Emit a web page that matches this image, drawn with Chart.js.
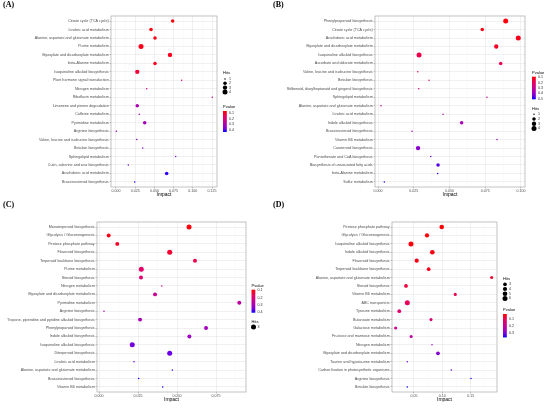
<!doctype html>
<html>
<head>
<meta charset="UTF-8">
<title>Pathway impact</title>
<script src="https://cdn.jsdelivr.net/npm/chart.js@4.4.1/dist/chart.umd.min.js"></script>
<style>
	body { margin: 0; background: #fff; }
	#wrap { position: relative; width: 550px; height: 408px; overflow: hidden; }
	canvas { position: absolute; }
	.tag { position: absolute; font: bold 8px "Liberation Serif", serif; line-height: 10px; color: #000; }
</style>
</head>
<body>
<div id="wrap">
	<canvas id="cA" width="275" height="204" style="left:0;top:0"></canvas>
	<canvas id="cB" width="275" height="204" style="left:275px;top:0"></canvas>
	<canvas id="cC" width="275" height="204" style="left:0;top:204px"></canvas>
	<canvas id="cD" width="275" height="204" style="left:275px;top:204px"></canvas>
	<div class="tag" style="left:3px;top:0">(A)</div>
	<div class="tag" style="left:273px;top:0">(B)</div>
	<div class="tag" style="left:3px;top:200px">(C)</div>
	<div class="tag" style="left:273px;top:200px">(D)</div>
</div>
<script>
	// ---- panel A ----
	const pathwaysA = ['Citrate cycle (TCA cycle)', 'Linoleic acid metabolism', 'Alanine, aspartate and glutamate metabolism',
		'Purine metabolism', 'Glyoxylate and dicarboxylate metabolism', 'beta-Alanine metabolism',
		'Isoquinoline alkaloid biosynthesis', 'Plant hormone signal transduction', 'Nitrogen metabolism',
		'Riboflavin metabolism', 'Limonene and pinene degradation', 'Caffeine metabolism', 'Pyrimidine metabolism',
		'Arginine biosynthesis', 'Valine, leucine and isoleucine biosynthesis', 'Betalain biosynthesis',
		'Sphingolipid metabolism', 'Cutin, suberine and wax biosynthesis', 'Arachidonic acid metabolism',
		'Brassinosteroid biosynthesis']
	const impactA = [0.0738, 0.0456, 0.0508, 0.0326, 0.0703, 0.0508, 0.0277, 0.0855, 0.040, 0.1254,
		0.0277, 0.0303, 0.0374, 0.0005, 0.027, 0.0348, 0.0777, 0.016, 0.066, 0.0243]
	const hitsA = [2, 2, 2, 4, 3, 2, 3, 1, 1, 1, 2, 1, 2, 1, 1, 1, 1, 1, 2, 1]
	const pvalA = [0.08, 0.085, 0.09, 0.09, 0.095, 0.1, 0.12, 0.2, 0.22, 0.25, 0.3, 0.3, 0.31, 0.33, 0.34, 0.35, 0.36, 0.38, 0.41, 0.42]
	const xTicksA = [0, 0.025, 0.05, 0.075, 0.1, 0.125]
	const hitsBreaksA = [1, 2, 3, 4]
	const pBreaksA = [0.1, 0.2, 0.3, 0.4]

	// ---- panel B ----
	const pathwaysB = ['Phenylpropanoid biosynthesis', 'Citrate cycle (TCA cycle)', 'Arachidonic acid metabolism',
		'Glyoxylate and dicarboxylate metabolism', 'Isoquinoline alkaloid biosynthesis', 'Ascorbate and aldarate metabolism',
		'Valine, leucine and isoleucine biosynthesis', 'Betalain biosynthesis',
		'Stilbenoid, diarylheptanoid and gingerol biosynthesis', 'Sphingolipid metabolism',
		'Alanine, aspartate and glutamate metabolism', 'Linoleic acid metabolism', 'Indole alkaloid biosynthesis',
		'Brassinosteroid biosynthesis', 'Vitamin B6 metabolism', 'Carotenoid biosynthesis',
		'Pantothenate and CoA biosynthesis', 'Biosynthesis of unsaturated fatty acids', 'beta-Alanine metabolism',
		'Sulfur metabolism']
	const impactB = [0.0893, 0.0729, 0.0981, 0.0827, 0.0287, 0.0858, 0.0278, 0.0357, 0.0285, 0.0762,
		0.0021, 0.0455, 0.0585, 0.0238, 0.0832, 0.028, 0.0369, 0.042, 0.0417, 0.0044]
	const hitsB = [4, 2, 4, 3, 4, 2, 1, 1, 1, 1, 1, 1, 2, 1, 1, 3, 1, 2, 1, 1]
	const pvalB = [0.1, 0.11, 0.12, 0.13, 0.17, 0.18, 0.22, 0.24, 0.26, 0.28, 0.3, 0.32, 0.36, 0.37, 0.39, 0.42, 0.44, 0.47, 0.49, 0.5]
	const xTicksB = [0, 0.025, 0.05, 0.075, 0.1]
	const hitsBreaksB = [1, 2, 3, 4]
	const pBreaksB = [0.1, 0.2, 0.3, 0.4, 0.5]

	// ---- panel C ----
	const pathwaysC = ['Monoterpenoid biosynthesis', 'Glycolysis / Gluconeogenesis', 'Pentose phosphate pathway',
		'Flavonoid biosynthesis', 'Terpenoid backbone biosynthesis', 'Purine metabolism', 'Steroid biosynthesis',
		'Nitrogen metabolism', 'Glyoxylate and dicarboxylate metabolism', 'Pyrimidine metabolism', 'Arginine biosynthesis',
		'Tropane, piperidine and pyridine alkaloid biosynthesis', 'Phenylpropanoid biosynthesis',
		'Indole alkaloid biosynthesis', 'Isoquinoline alkaloid biosynthesis', 'Diterpenoid biosynthesis',
		'Linoleic acid metabolism', 'Alanine, aspartate and glutamate metabolism', 'Brassinosteroid biosynthesis',
		'Vitamin B6 metabolism']
	const impactC = [0.0577, 0.0062, 0.0117, 0.0453, 0.0615, 0.0271, 0.0269, 0.0402, 0.0359, 0.0899,
		0.0032, 0.0263, 0.0686, 0.0579, 0.0213, 0.0453, 0.0224, 0.047, 0.0254, 0.0408]
	const hitsC = [3, 2, 2, 3, 2, 3, 2, 1, 2, 2, 1, 2, 2, 2, 3, 3, 1, 1, 1, 1]
	const pvalC = [0.1, 0.11, 0.12, 0.13, 0.15, 0.18, 0.19, 0.22, 0.25, 0.27, 0.28, 0.3, 0.31, 0.32, 0.36, 0.37, 0.38, 0.39, 0.4, 0.41]
	const xTicksC = [0, 0.025, 0.05, 0.075]
	const hitsBreaksC = [3]
	const pBreaksC = [0.1, 0.2, 0.3, 0.4]

	// ---- panel D ----
	const pathwaysD = ['Pentose phosphate pathway', 'Glycolysis / Gluconeogenesis', 'Isoquinoline alkaloid biosynthesis',
		'Indole alkaloid biosynthesis', 'Flavonoid biosynthesis', 'Terpenoid backbone biosynthesis',
		'Alanine, aspartate and glutamate metabolism', 'Steroid biosynthesis', 'Vitamin B6 metabolism', 'ABC transporters',
		'Tyrosine metabolism', 'Butanoate metabolism', 'Galactose metabolism', 'Fructose and mannose metabolism',
		'Nitrogen metabolism', 'Glyoxylate and dicarboxylate metabolism', 'Taurine and hypotaurine metabolism',
		'Carbon fixation in photosynthetic organisms', 'Arginine biosynthesis', 'Betalain biosynthesis']
	const impactD = [0.0989, 0.0729, 0.0447, 0.0823, 0.0548, 0.0759, 0.187, 0.0359, 0.1228, 0.0382,
		0.0241, 0.080, 0.0177, 0.045, 0.0817, 0.0923, 0.0382, 0.1158, 0.1505, 0.0382]
	const hitsD = [5, 4, 6, 5, 4, 3, 2, 3, 2, 6, 3, 2, 2, 2, 1, 3, 1, 1, 1, 1]
	const pvalD = [0.03, 0.035, 0.04, 0.045, 0.05, 0.055, 0.07, 0.08, 0.1, 0.11, 0.13, 0.15, 0.18, 0.22, 0.25, 0.3, 0.31, 0.33, 0.35, 0.37]
	const xTicksD = [0.05, 0.1, 0.15]
	const hitsBreaksD = [3, 4, 5, 6]
	const pBreaksD = [0.1, 0.2, 0.3]

	const FONT = '"Liberation Sans", Arial, sans-serif'

	// red -> blue, roughly what ggplot gives going through Lab
	const colorStops = [[0, [255, 0, 0]], [0.25, [232, 0, 98]], [0.5, [199, 0, 148]], [0.75, [150, 0, 200]], [0.875, [105, 0, 228]], [1, [0, 0, 255]]]

	function pColor (p, lo, hi) {
		let t = Math.min(1, Math.max(0, (p - lo) / (hi - lo)))
		for (let i = 1; i < colorStops.length; i++) {
			const [t1, c1] = colorStops[i]
			const [t0, c0] = colorStops[i - 1]
			if (t <= t1) {
				const f = (t - t0) / (t1 - t0)
				const c = c0.map((v, k) => Math.round(v + (c1[k] - v) * f))
				return `rgb(${c[0]},${c[1]},${c[2]})`
			}
		}
		return 'rgb(0,0,255)'
	}

	function radius (h, range) {
		const t = (h - range[0]) / (range[1] - range[0])
		return 0.75 + 1.75 * Math.sqrt(Math.max(0, t))
	}

	const framePlugin = {
		id: 'frame',
		afterDraw (chart) {
			const { ctx, chartArea: a } = chart
			ctx.save()
			ctx.strokeStyle = '#a8a8a8'
			ctx.lineWidth = 0.7
			ctx.strokeRect(a.left, a.top, a.right - a.left, a.bottom - a.top)
			ctx.restore()
		}
	}

	function legendPlugin (p) {
		return {
			id: 'ggLegend',
			afterDraw (chart) {
				const ctx = chart.ctx
				ctx.save()
				ctx.textBaseline = 'middle'
				ctx.textAlign = 'left'

				// hits
				const h = p.hitsLeg
				ctx.fillStyle = '#000'
				ctx.font = `4px ${FONT}`
				ctx.fillText('Hits', h.x, h.y)
				ctx.font = `3.6px ${FONT}`
				p.hitsBreaks.forEach((b, i) => {
					const y = h.y + h.first + i * h.step
					ctx.fillStyle = '#000'
					ctx.beginPath()
					ctx.arc(h.x + 2, y, radius(b, p.hitsRange), 0, Math.PI * 2)
					ctx.fill()
					ctx.fillStyle = '#333'
					ctx.fillText(String(b), h.x + 6, y)
				})

				// pvalue colour bar
				const c = p.pLeg
				ctx.fillStyle = '#000'
				ctx.font = `4px ${FONT}`
				ctx.fillText('Pvalue', c.x, c.y)
				const top = c.y + 4, bot = top + c.h
				const grad = ctx.createLinearGradient(0, top, 0, bot)
				for (let i = 0; i <= 10; i++) {
					const pv = p.pRange[0] + (p.pRange[1] - p.pRange[0]) * i / 10
					grad.addColorStop(i / 10, pColor(pv, p.pRange[0], p.pRange[1]))
				}
				ctx.fillStyle = grad
				ctx.fillRect(c.x, top, 3.8, c.h)
				ctx.font = `3.6px ${FONT}`
				ctx.fillStyle = '#333'
				p.pBreaks.forEach(b => {
					const y = top + (b - p.pRange[0]) / (p.pRange[1] - p.pRange[0]) * c.h
					ctx.fillText(b.toFixed(1), c.x + 6, y)
				})
				ctx.restore()
			}
		}
	}

	function makePanel (id, p) {
		const n = p.names.length
		const lo = p.pRange[0], hi = p.pRange[1]
		const minorStep = (p.xTicks[1] - p.xTicks[0]) / 2
		const points = p.impact.map((v, i) => ({ x: v, y: i + 1, r: radius(p.hits[i], p.hitsRange) }))

		new Chart(document.getElementById(id), {
			type: 'bubble',
			data: {
				datasets: [{
					data: points,
					backgroundColor: p.pval.map(v => pColor(v, lo, hi)),
					borderWidth: 0,
					hoverRadius: 0
				}]
			},
			options: {
				responsive: false,
				animation: false,
				events: [],
				layout: { padding: { left: 0, right: p.padRight, top: p.padTop, bottom: 0 } },
				plugins: { legend: { display: false }, tooltip: { enabled: false } },
				scales: {
					x: {
						type: 'linear',
						min: p.xMin,
						max: p.xMax,
						afterBuildTicks: s => {
							const ticks = []
							const first = p.xTicks[0] - minorStep * Math.ceil((p.xTicks[0] - p.xMin) / minorStep)
							for (let v = first; v <= p.xMax + 1e-9; v += minorStep) {
								const major = p.xTicks.some(t => Math.abs(t - v) < 1e-9)
								ticks.push({ value: v, minor: !major })
							}
							s.ticks = ticks
						},
						afterFit: s => { s.height = p.xHeight },
						ticks: {
							autoSkip: false,
							maxRotation: 0,
							padding: 0.3,
							color: '#4d4d4d',
							font: { family: FONT, size: 3.6 },
							callback: (v, i, ticks) => ticks[i].minor ? '' : v.toFixed(p.decimals)
						},
						grid: {
							color: ctx => ctx.tick && ctx.tick.minor ? '#f2f2f2' : '#e6e6e6',
							lineWidth: ctx => ctx.tick && ctx.tick.minor ? 0.35 : 0.6,
							tickLength: 1.5,
							tickColor: ctx => ctx.tick && ctx.tick.minor ? 'rgba(0,0,0,0)' : '#999'
						},
						border: { display: false },
						title: {
							display: true,
							text: 'Impact',
							color: '#000',
							font: { family: FONT, size: 5 },
							padding: { top: 0, bottom: p.titlePad }
						}
					},
					y: {
						type: 'linear',
						reverse: true,
						min: 0.4,
						max: n + 0.6,
						afterBuildTicks: s => { s.ticks = p.names.map((_, i) => ({ value: i + 1 })) },
						afterFit: s => { s.width = p.yWidth },
						ticks: {
							autoSkip: false,
							padding: 0.8,
							color: '#4d4d4d',
							font: { family: FONT, size: 3.7 },
							callback: v => p.names[Math.round(v) - 1]
						},
						grid: { color: '#e6e6e6', lineWidth: 0.6, tickLength: 1.5, tickColor: '#999' },
						border: { display: false }
					}
				}
			},
			plugins: [framePlugin, legendPlugin(p)]
		})
	}

	makePanel('cA', {
		names: pathwaysA, impact: impactA, hits: hitsA, pval: pvalA,
		xTicks: xTicksA, hitsBreaks: hitsBreaksA, pBreaks: pBreaksA,
		xMin: -0.0065, xMax: 0.1315, decimals: 3,
		hitsRange: [1, 4], pRange: [0.07, 0.43],
		yWidth: 111, padRight: 58, padTop: 16, xHeight: 17, titlePad: 6.5,
		hitsLeg: { x: 223, y: 73, first: 6, step: 4.3 },
		pLeg: { x: 223, y: 107, h: 21 }
	})

	makePanel('cB', {
		names: pathwaysB, impact: impactB, hits: hitsB, pval: pvalB,
		xTicks: xTicksB, hitsBreaks: hitsBreaksB, pBreaks: pBreaksB,
		xMin: -0.0021, xMax: 0.1028, decimals: 3,
		hitsRange: [1, 4], pRange: [0.09, 0.51],
		yWidth: 100, padRight: 25, padTop: 16, xHeight: 17, titlePad: 6.5,
		pLeg: { x: 257, y: 72.7, h: 22.6 },
		hitsLeg: { x: 257, y: 108.7, first: 5.6, step: 4.7 }
	})

	makePanel('cC', {
		names: pathwaysC, impact: impactC, hits: hitsC, pval: pvalC,
		xTicks: xTicksC, hitsBreaks: hitsBreaksC, pBreaks: pBreaksC,
		xMin: -0.0013, xMax: 0.0942, decimals: 3,
		hitsRange: [1, 3], pRange: [0.09, 0.41],
		yWidth: 97, padRight: 29, padTop: 18, xHeight: 16, titlePad: 5,
		pLeg: { x: 251.5, y: 81.7, h: 23 },
		hitsLeg: { x: 251.5, y: 117.5, first: 5.5, step: 4.5 }
	})

	makePanel('cD', {
		names: pathwaysD, impact: impactD, hits: hitsD, pval: pvalD,
		xTicks: xTicksD, hitsBreaks: hitsBreaksD, pBreaks: pBreaksD,
		xMin: 0.0112, xMax: 0.1964, decimals: 2,
		hitsRange: [1, 6], pRange: [0.03, 0.37],
		yWidth: 117, padRight: 53, padTop: 18, xHeight: 16, titlePad: 5,
		hitsLeg: { x: 228, y: 75, first: 5.3, step: 4.7 },
		pLeg: { x: 228, y: 106, h: 23.4 }
	})
</script>
</body>
</html>
